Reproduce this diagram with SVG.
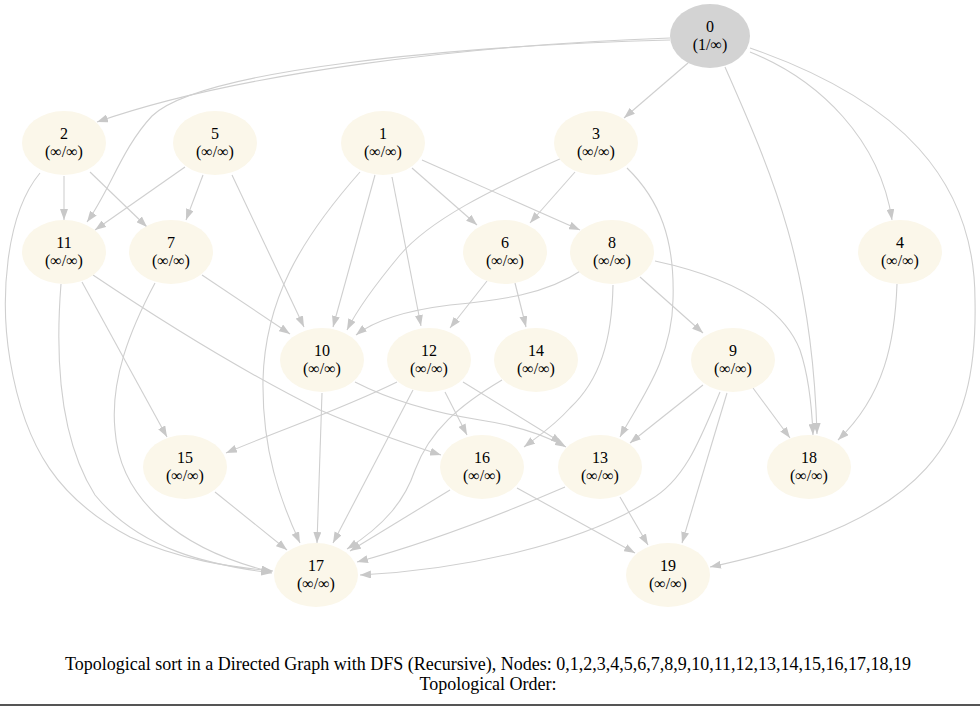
<svg xmlns="http://www.w3.org/2000/svg" width="980" height="707" viewBox="0 0 980 707">
<defs>
<marker id="ah" viewBox="0 0 11 8" refX="11" refY="4" markerWidth="11" markerHeight="8" markerUnits="userSpaceOnUse" orient="auto">
<path d="M0,0 L11,4 L0,8 z" fill="#c8c8c8"/>
</marker>
</defs>
<style>
.e path{fill:none;stroke:#cfcfcf;stroke-width:1.1;marker-end:url(#ah)}
.n ellipse{fill:#fbf7ea}
.n text{font-family:"Liberation Serif","Times New Roman",serif;font-size:16px;fill:#000;text-anchor:middle}
.t{font-family:"Liberation Serif","Times New Roman",serif;font-size:18px;fill:#000;text-anchor:middle}
</style>
<rect width="980" height="707" fill="#fff"/>
<g id="edges" class="e">
<path d="M670,38 C470,45 240,72 97,122"/>
<path d="M670,40 C450,46 200,70 152,116 C122,148 110,190 87,222"/>
<path d="M688,63 L624,118"/>
<path d="M725,67 C770,170 812,260 817,434"/>
<path d="M750,52 C820,80 880,140 892,220"/>
<path d="M750,48 C900,100 975,180 975,300 C978,440 930,520 710,567"/>
<path d="M64,176 L64,220"/>
<path d="M90,172 L147,227"/>
<path d="M40,173 C5,215 0,300 10,360 C25,450 60,500 130,537 C180,560 230,567 273,571"/>
<path d="M185,167 L95,230"/>
<path d="M203,175 L186,220"/>
<path d="M232,175 L304,327"/>
<path d="M360,172 C300,240 265,300 263,380 C262,450 280,500 300,543"/>
<path d="M412,168 L477,225"/>
<path d="M422,160 L580,230"/>
<path d="M375,175 L333,327"/>
<path d="M392,177 L421,326"/>
<path d="M575,172 L530,223"/>
<path d="M562,158 C490,190 430,220 400,255 C375,285 357,310 347,330"/>
<path d="M627,168 C660,200 675,240 673,300 C672,360 640,400 620,437"/>
<path d="M61,284 C55,360 60,440 95,495 C140,550 210,565 272,573"/>
<path d="M82,282 L167,437"/>
<path d="M93,275 C160,320 240,370 320,410 C370,432 410,445 441,455"/>
<path d="M155,283 C130,330 110,380 115,430 C120,500 180,550 272,572"/>
<path d="M202,275 L290,334"/>
<path d="M487,281 L450,328"/>
<path d="M515,283 L526,327"/>
<path d="M582,270 C545,295 500,300 450,305 C410,310 375,320 356,335"/>
<path d="M640,277 L703,333"/>
<path d="M613,285 C612,340 600,380 570,408 C555,425 540,435 524,447"/>
<path d="M655,261 C720,275 780,300 800,350 C810,380 812,410 813,435"/>
<path d="M897,284 C895,340 885,395 838,440"/>
<path d="M322,393 L317,543"/>
<path d="M355,382 C390,400 430,412 480,420 C520,426 545,435 566,447"/>
<path d="M397,382 C340,410 280,430 226,453"/>
<path d="M413,390 L333,543"/>
<path d="M445,392 L467,435"/>
<path d="M463,382 L562,443"/>
<path d="M502,380 C460,405 430,430 415,470 C405,500 385,525 347,549"/>
<path d="M703,385 L630,443"/>
<path d="M720,392 C700,440 685,480 650,500 C580,545 460,570 360,575"/>
<path d="M727,393 L682,543"/>
<path d="M753,388 L790,438"/>
<path d="M215,492 L287,550"/>
<path d="M450,490 L350,551"/>
<path d="M517,488 L635,553"/>
<path d="M565,487 C500,515 420,545 357,562"/>
<path d="M620,497 L648,545"/>
</g>
<g id="node0" class="n"><ellipse cx="710" cy="36" rx="40" ry="32" style="fill:#d3d3d3"/><text x="710" y="32">0</text><text x="710" y="50">(1/∞)</text></g>
<g id="node2" class="n"><ellipse cx="64" cy="143" rx="42" ry="32"/><text x="64" y="139">2</text><text x="64" y="157">(∞/∞)</text></g>
<g id="node5" class="n"><ellipse cx="215" cy="143" rx="42" ry="32"/><text x="215" y="139">5</text><text x="215" y="157">(∞/∞)</text></g>
<g id="node1" class="n"><ellipse cx="383" cy="143" rx="42" ry="32"/><text x="383" y="139">1</text><text x="383" y="157">(∞/∞)</text></g>
<g id="node3" class="n"><ellipse cx="596" cy="143" rx="42" ry="32"/><text x="596" y="139">3</text><text x="596" y="157">(∞/∞)</text></g>
<g id="node11" class="n"><ellipse cx="64" cy="252" rx="42" ry="32"/><text x="64" y="248">11</text><text x="64" y="266">(∞/∞)</text></g>
<g id="node7" class="n"><ellipse cx="171" cy="252" rx="42" ry="32"/><text x="171" y="248">7</text><text x="171" y="266">(∞/∞)</text></g>
<g id="node6" class="n"><ellipse cx="505" cy="252" rx="42" ry="32"/><text x="505" y="248">6</text><text x="505" y="266">(∞/∞)</text></g>
<g id="node8" class="n"><ellipse cx="612" cy="252" rx="42" ry="32"/><text x="612" y="248">8</text><text x="612" y="266">(∞/∞)</text></g>
<g id="node4" class="n"><ellipse cx="900" cy="252" rx="42" ry="32"/><text x="900" y="248">4</text><text x="900" y="266">(∞/∞)</text></g>
<g id="node10" class="n"><ellipse cx="322" cy="360" rx="42" ry="32"/><text x="322" y="356">10</text><text x="322" y="374">(∞/∞)</text></g>
<g id="node12" class="n"><ellipse cx="429" cy="360" rx="42" ry="32"/><text x="429" y="356">12</text><text x="429" y="374">(∞/∞)</text></g>
<g id="node14" class="n"><ellipse cx="536" cy="360" rx="42" ry="32"/><text x="536" y="356">14</text><text x="536" y="374">(∞/∞)</text></g>
<g id="node9" class="n"><ellipse cx="733" cy="360" rx="42" ry="32"/><text x="733" y="356">9</text><text x="733" y="374">(∞/∞)</text></g>
<g id="node15" class="n"><ellipse cx="185" cy="467" rx="42" ry="32"/><text x="185" y="463">15</text><text x="185" y="481">(∞/∞)</text></g>
<g id="node16" class="n"><ellipse cx="482" cy="467" rx="42" ry="32"/><text x="482" y="463">16</text><text x="482" y="481">(∞/∞)</text></g>
<g id="node13" class="n"><ellipse cx="600" cy="467" rx="42" ry="32"/><text x="600" y="463">13</text><text x="600" y="481">(∞/∞)</text></g>
<g id="node18" class="n"><ellipse cx="809" cy="467" rx="42" ry="32"/><text x="809" y="463">18</text><text x="809" y="481">(∞/∞)</text></g>
<g id="node17" class="n"><ellipse cx="316" cy="575" rx="42" ry="32"/><text x="316" y="571">17</text><text x="316" y="589">(∞/∞)</text></g>
<g id="node19" class="n"><ellipse cx="668" cy="575" rx="42" ry="32"/><text x="668" y="571">19</text><text x="668" y="589">(∞/∞)</text></g>
<g id="title">
<text class="t" x="488" y="670">Topological sort in a Directed Graph with DFS (Recursive), Nodes: 0,1,2,3,4,5,6,7,8,9,10,11,12,13,14,15,16,17,18,19</text>
<text class="t" x="488" y="690">Topological Order:</text>
</g>
<line x1="0" y1="705" x2="980" y2="705" stroke="#555" stroke-width="2"/>
</svg>
